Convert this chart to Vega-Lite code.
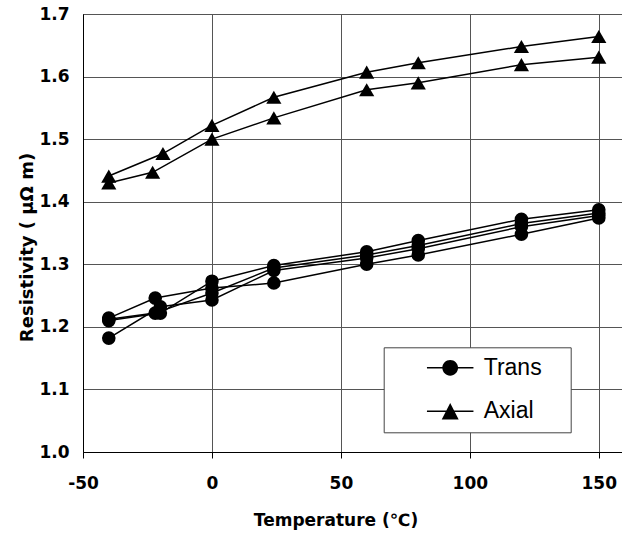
{
  "$schema": "https://vega.github.io/schema/vega-lite/v6.json",
  "width": 539,
  "height": 438,
  "autosize": "none",
  "padding": {"left": 83, "top": 14, "right": 0, "bottom": 82},
  "background": "white",
  "config": {"view": {"stroke": "black", "strokeWidth": 1}, "font": "DejaVu Sans"},
  "data": {"values": [
    {"type": "Trans", "series": "T1", "temp": -40, "r": 1.214},
    {"type": "Trans", "series": "T1", "temp": -22, "r": 1.246},
    {"type": "Trans", "series": "T1", "temp": 0, "r": 1.262},
    {"type": "Trans", "series": "T1", "temp": 24, "r": 1.270},
    {"type": "Trans", "series": "T1", "temp": 60, "r": 1.300},
    {"type": "Trans", "series": "T1", "temp": 80, "r": 1.315},
    {"type": "Trans", "series": "T1", "temp": 120, "r": 1.348},
    {"type": "Trans", "series": "T1", "temp": 150, "r": 1.374},
    {"type": "Trans", "series": "T2", "temp": -40, "r": 1.210},
    {"type": "Trans", "series": "T2", "temp": -20, "r": 1.222},
    {"type": "Trans", "series": "T2", "temp": 0, "r": 1.273},
    {"type": "Trans", "series": "T2", "temp": 24, "r": 1.298},
    {"type": "Trans", "series": "T2", "temp": 60, "r": 1.320},
    {"type": "Trans", "series": "T2", "temp": 80, "r": 1.338},
    {"type": "Trans", "series": "T2", "temp": 120, "r": 1.372},
    {"type": "Trans", "series": "T2", "temp": 150, "r": 1.387},
    {"type": "Trans", "series": "T3", "temp": -40, "r": 1.212},
    {"type": "Trans", "series": "T3", "temp": -22, "r": 1.222},
    {"type": "Trans", "series": "T3", "temp": 0, "r": 1.254},
    {"type": "Trans", "series": "T3", "temp": 24, "r": 1.294},
    {"type": "Trans", "series": "T3", "temp": 60, "r": 1.315},
    {"type": "Trans", "series": "T3", "temp": 80, "r": 1.330},
    {"type": "Trans", "series": "T3", "temp": 120, "r": 1.365},
    {"type": "Trans", "series": "T3", "temp": 150, "r": 1.382},
    {"type": "Trans", "series": "T4", "temp": -40, "r": 1.182},
    {"type": "Trans", "series": "T4", "temp": -20, "r": 1.232},
    {"type": "Trans", "series": "T4", "temp": 0, "r": 1.243},
    {"type": "Trans", "series": "T4", "temp": 24, "r": 1.290},
    {"type": "Trans", "series": "T4", "temp": 60, "r": 1.310},
    {"type": "Trans", "series": "T4", "temp": 80, "r": 1.325},
    {"type": "Trans", "series": "T4", "temp": 120, "r": 1.360},
    {"type": "Trans", "series": "T4", "temp": 150, "r": 1.378},
    {"type": "Axial", "series": "A1", "temp": -40, "r": 1.441},
    {"type": "Axial", "series": "A1", "temp": -19, "r": 1.477},
    {"type": "Axial", "series": "A1", "temp": 0, "r": 1.522},
    {"type": "Axial", "series": "A1", "temp": 24, "r": 1.567},
    {"type": "Axial", "series": "A1", "temp": 60, "r": 1.607},
    {"type": "Axial", "series": "A1", "temp": 80, "r": 1.622},
    {"type": "Axial", "series": "A1", "temp": 120, "r": 1.648},
    {"type": "Axial", "series": "A1", "temp": 150, "r": 1.664},
    {"type": "Axial", "series": "A2", "temp": -40, "r": 1.430},
    {"type": "Axial", "series": "A2", "temp": -23, "r": 1.447},
    {"type": "Axial", "series": "A2", "temp": 0, "r": 1.500},
    {"type": "Axial", "series": "A2", "temp": 24, "r": 1.534},
    {"type": "Axial", "series": "A2", "temp": 60, "r": 1.579},
    {"type": "Axial", "series": "A2", "temp": 80, "r": 1.590},
    {"type": "Axial", "series": "A2", "temp": 120, "r": 1.619},
    {"type": "Axial", "series": "A2", "temp": 150, "r": 1.631}
  ]},
  "encoding": {
    "x": {
      "field": "temp", "type": "quantitative",
      "scale": {"domain": [-50, 159], "nice": false, "zero": false},
      "axis": {
        "values": [-50, 0, 50, 100, 150],
        "labelExpr": "datum.value < 0 ? '-' + abs(datum.value) : '' + datum.value",
        "title": "Temperature (℃)",
        "titleFont": "DejaVu Sans", "titleFontWeight": "bold", "titleFontSize": 17, "titleColor": "black",
        "titleX": 252.5, "titleY": 73, "titleBaseline": "alphabetic", "titleAlign": "center",
        "labelFont": "DejaVu Sans", "labelFontWeight": "bold", "labelFontSize": 17, "labelColor": "black",
        "labelPadding": 17, "tickSize": 6, "tickColor": "black", "domainColor": "black",
        "gridColor": "#555", "gridWidth": 1, "labelFlush": false, "labelOverlap": false
      }
    },
    "y": {
      "field": "r", "type": "quantitative",
      "scale": {"domain": [1.0, 1.7], "nice": false, "zero": false},
      "axis": {
        "values": [1.0, 1.1, 1.2, 1.3, 1.4, 1.5, 1.6, 1.7],
        "format": ".1f",
        "title": "Resistivity ( μΩ m)",
        "titleFont": "DejaVu Sans", "titleFontWeight": "bold", "titleFontSize": 18, "titleColor": "black",
        "titleX": -51, "titleY": 233, "titleAngle": 270, "titleBaseline": "alphabetic", "titleAlign": "center",
        "labelFont": "DejaVu Sans", "labelFontWeight": "bold", "labelFontSize": 17, "labelColor": "black",
        "labelPadding": 14, "tickSize": 0, "domainColor": "black",
        "gridColor": "#555", "gridWidth": 1, "labelFlush": false, "labelOverlap": false
      }
    }
  },
  "layer": [
    {
      "mark": {"type": "line", "color": "black", "strokeWidth": 1.5},
      "encoding": {"detail": {"field": "series", "type": "nominal"}}
    },
    {
      "transform": [{"filter": "datum.type === 'Trans'"}],
      "mark": {"type": "point", "shape": "circle", "filled": true, "color": "black", "opacity": 1, "size": 185, "strokeWidth": 0}
    },
    {
      "transform": [{"filter": "datum.type === 'Axial'"}],
      "mark": {"type": "point", "shape": "triangle-up", "filled": true, "color": "black", "opacity": 1, "size": 230, "strokeWidth": 0}
    },
    {
      "mark": {"type": "point", "filled": true, "color": "black", "opacity": 0, "size": 225},
      "encoding": {
        "shape": {
          "field": "type", "type": "nominal",
          "scale": {
            "domain": ["Trans", "Axial"],
            "range": [
              "M-3.1,-0.1L3.1,-0.1L3.1,0.1L-3.1,0.1ZM-1.05,0A1.05,1.05,0,1,1,1.05,0A1.05,1.05,0,1,1,-1.05,0Z",
              "M-3.1,0.1L-3.1,-0.1L3.1,-0.1L3.1,0.1ZM0,-1.1L1.13,1.1L-1.13,1.1Z"
            ]
          },
          "legend": {
            "orient": "none", "legendX": 300.7, "legendY": 333.3,
            "title": "\u00a0", "titleOrient": "right", "titlePadding": 20, "titleFontSize": 4,
            "padding": 9, "strokeColor": "#444", "fillColor": "white",
            "symbolSize": 225, "symbolOffset": 46, "labelOffset": 22, "rowPadding": 19.5,
            "symbolFillColor": "black", "symbolStrokeColor": "black", "symbolStrokeWidth": 0, "symbolOpacity": 1,
            "labelFont": "Liberation Sans", "labelFontSize": 23, "labelColor": "black",
            "encode": {"symbols": {"update": {
              "fill": {"value": "black"}, "opacity": {"value": 1}
            }}}
          }
        }
      }
    }
  ]
}
